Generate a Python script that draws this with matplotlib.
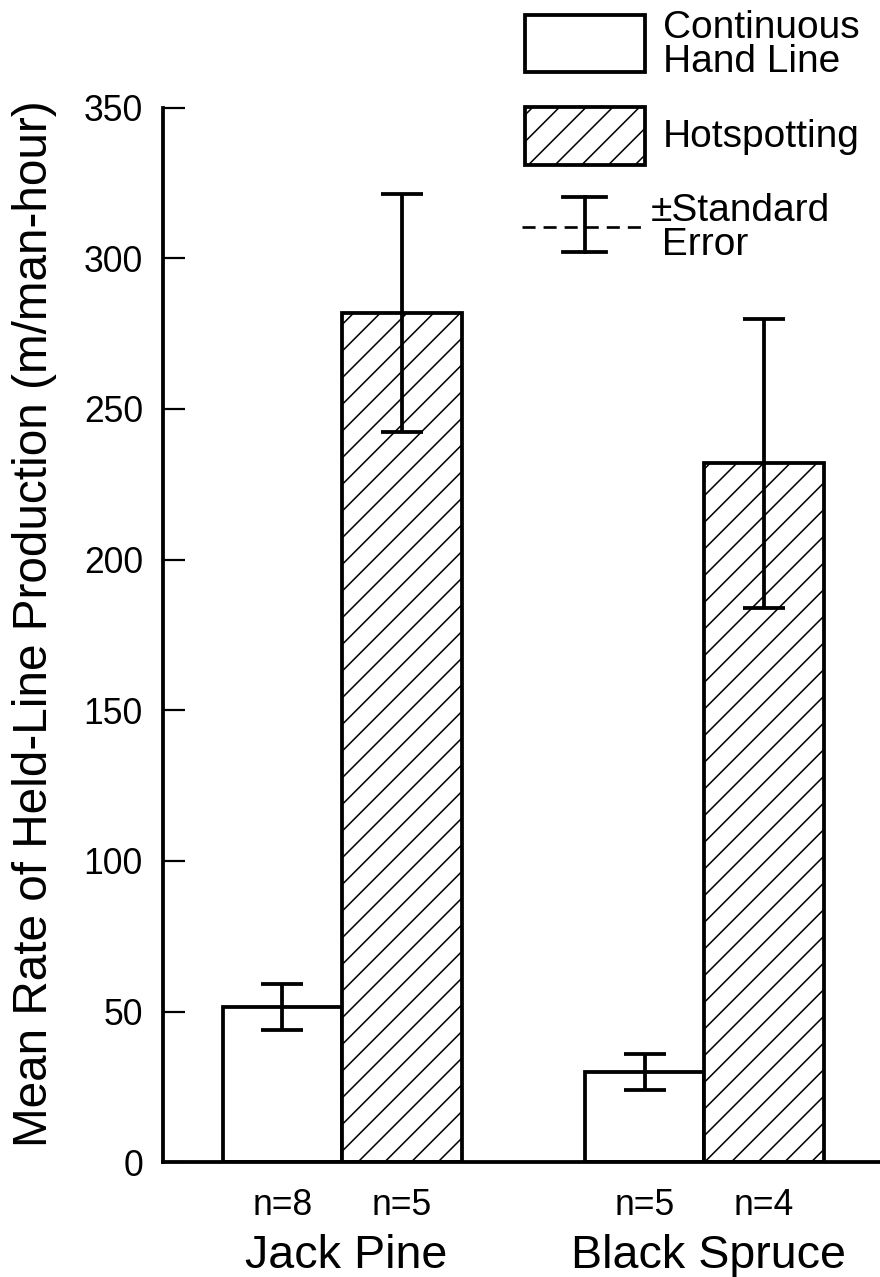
import matplotlib
matplotlib.use('Agg')
import matplotlib.pyplot as plt
from matplotlib.patches import Rectangle
from matplotlib.lines import Line2D

plt.rcParams['font.family'] = ['Liberation Sans', 'DejaVu Sans']
plt.rcParams['hatch.linewidth'] = 0.7

# ---- data ----
groups = ['Jack Pine', 'Black Spruce']
hand_mean = [51.5, 30.0]
hand_se = [7.7, 6.0]
hot_mean = [282.0, 232.0]
hot_se = [39.5, 48.0]
hand_n = ['n=8', 'n=5']
hot_n = ['n=5', 'n=4']
y_ticks = [0, 50, 100, 150, 200, 250, 300, 350]
ylabel = 'Mean Rate of Held-Line Production (m/man-hour)'

# dpi 160 with '//' gives roughly the printed hatch spacing
fig = plt.figure(figsize=(5.5, 7.98125), dpi=160)
ax = fig.add_axes([0.1852, 0.0898, 0.8148, 0.8259])

group_x = [0.0, 3.03]
hand_x = group_x
hot_x = [g + 1 for g in group_x]

ax.bar(hand_x, hand_mean, width=1.0, color='white', edgecolor='black',
       linewidth=1.7, zorder=2)
ax.bar(hot_x, hot_mean, width=1.0, color='white', edgecolor='black',
       hatch='//', linewidth=1.7, zorder=2)
for xs, m, e in [(hand_x, hand_mean, hand_se), (hot_x, hot_mean, hot_se)]:
    ax.errorbar(xs, m, yerr=e, fmt='none', ecolor='black', elinewidth=1.7,
                capsize=9.5, capthick=1.7, zorder=3)

ax.set_xlim(-1, 5)
ax.set_ylim(0, 350)
ax.set_yticks(y_ticks)
ax.set_xticks([])
ax.tick_params(axis='y', direction='in', length=10, width=1.0, pad=9,
               labelsize=16)
for s in ['top', 'right']:
    ax.spines[s].set_visible(False)
for s in ['left', 'bottom']:
    ax.spines[s].set_linewidth(1.7)

# n labels and group names under the axis
for xs, labs in [(hand_x, hand_n), (hot_x, hot_n)]:
    for x, lab in zip(xs, labs):
        ax.annotate(lab, xy=(x, 0), xycoords=('data', 'axes fraction'),
                    xytext=(0, -19.5), textcoords='offset points',
                    ha='center', va='center', fontsize=16)
for gx, name in zip(group_x, groups):
    ax.annotate(name, xy=(gx + 0.5, 0), xycoords=('data', 'axes fraction'),
                xytext=(2, -42), textcoords='offset points',
                ha='center', va='center', fontsize=21)

fig.text(35 / 880, 1 - 624 / 1277, ylabel, rotation=90, ha='center',
         va='center', fontsize=21.5)

# ---- hand-drawn legend, in pixel coordinates ----
lax = fig.add_axes([0, 0, 1, 1])
lax.set_xlim(0, 880)
lax.set_ylim(1277, 0)
lax.axis('off')

lax.add_patch(Rectangle((525, 15), 120, 57, facecolor='white',
                        edgecolor='black', linewidth=1.7))
lax.add_patch(Rectangle((525, 107), 120, 58, facecolor='white',
                        edgecolor='black', hatch='//', linewidth=1.7))
lax.add_line(Line2D([522, 643], [227, 227], color='black', linewidth=1.2,
                    linestyle=(0, (4.9, 3.0))))
lax.add_line(Line2D([585, 585], [197, 252], color='black', linewidth=1.7))
lax.add_line(Line2D([563, 606], [197, 197], color='black', linewidth=1.7))
lax.add_line(Line2D([563, 606], [252, 252], color='black', linewidth=1.7))

lax.text(663, 45, 'Continuous\nHand Line', fontsize=17.5, va='center',
         ha='left', linespacing=0.95)
lax.text(663, 147, 'Hotspotting', fontsize=17.5, va='baseline', ha='left')
lax.text(651, 228, '\u00b1Standard\n Error', fontsize=17.5, va='center',
         ha='left', linespacing=0.95)

fig.savefig('out.png', dpi=160, facecolor='white')
